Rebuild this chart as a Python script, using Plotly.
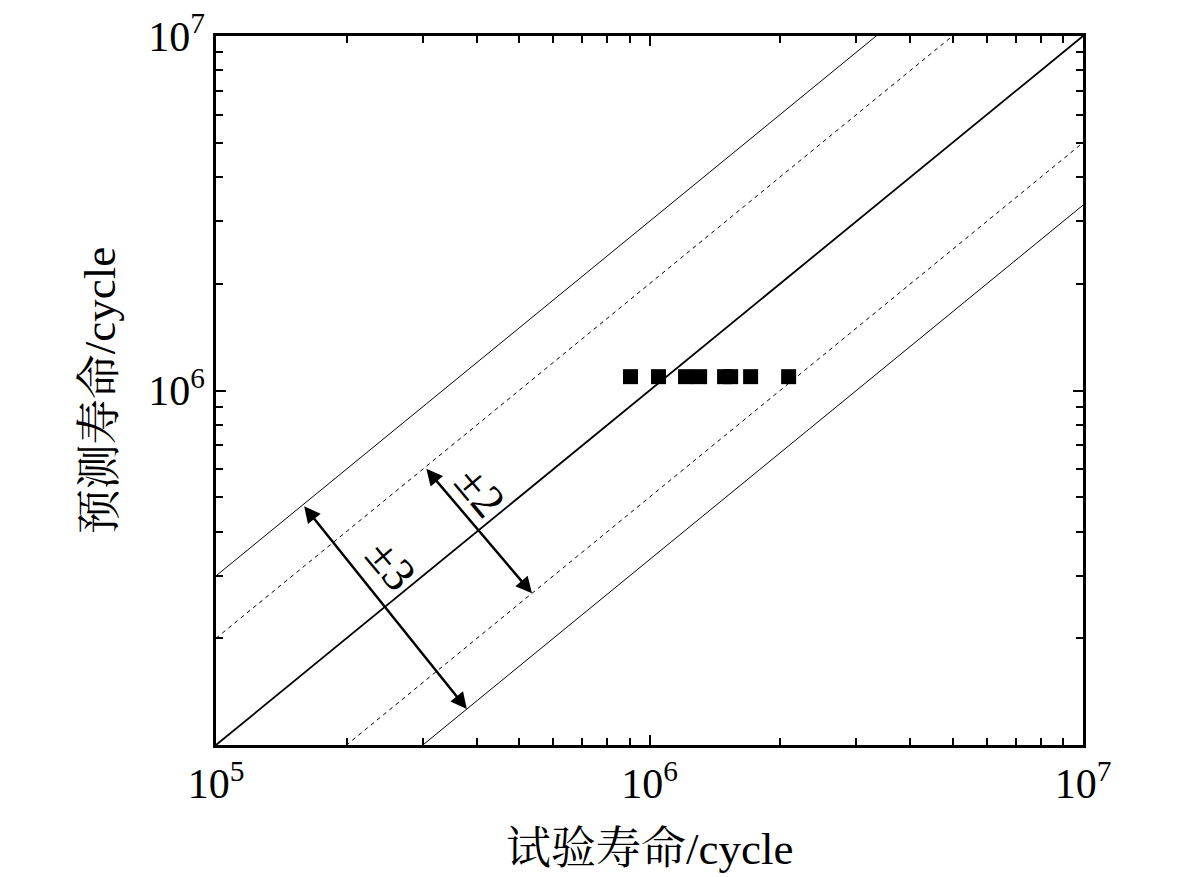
import numpy as np
import plotly.graph_objects as go

# ---- data ----
test_life = [9.04e5, 1.049e6, 1.211e6, 1.305e6, 1.490e6, 1.539e6, 1.711e6, 2.094e6]
pred_life = [1.094e6, 1.094e6, 1.094e6, 1.094e6, 1.094e6, 1.094e6, 1.094e6, 1.094e6]

line_x = [1e5, 1e7]
center_factor = 1.0
band2_factors = [2.0, 0.5]
band3_factors = [3.0, 1.0 / 3.0]

arrow3_x = [1.587e5, 3.79e5]   # on y=3x and y=x/3
arrow2_x = [3.035e5, 5.357e5]  # on y=2x and y=x/2
label3_pos = [2.506e5, 3.09e5]
label2_pos = [4.04e5, 4.99e5]

major_vals = [1e5, 1e6, 1e7]
major_text = ["10<sup>5</sup>", "10<sup>6</sup>", "10<sup>7</sup>"]
y_major_vals = [1e6, 1e7]
y_major_text = ["10<sup>6</sup>", "10<sup>7</sup>"]
minor_vals = [m * 10 ** e for e in (5, 6) for m in range(2, 10)]

x_title = "试验寿命/cycle"
y_title = "预测寿命/cycle"

FONT = "Liberation Serif, Times New Roman, Noto Serif CJK SC, Noto Sans CJK SC, serif"

fig = go.Figure()

# center line
fig.add_trace(go.Scatter(x=line_x, y=[center_factor * v for v in line_x], mode="lines",
                         line=dict(color="black", width=1.8), showlegend=False, hoverinfo="skip"))
for f in band2_factors:
    fig.add_trace(go.Scatter(x=line_x, y=[f * v for v in line_x], mode="lines",
                             line=dict(color="black", width=1, dash="4px,4px"),
                             showlegend=False, hoverinfo="skip"))
for f in band3_factors:
    fig.add_trace(go.Scatter(x=line_x, y=[f * v for v in line_x], mode="lines",
                             line=dict(color="black", width=1),
                             showlegend=False, hoverinfo="skip"))

fig.add_trace(go.Scatter(x=test_life, y=pred_life, mode="markers",
                         marker=dict(symbol="square", size=15, color="black", line=dict(width=0)),
                         showlegend=False))

annotations = []
for xs, facs in ((arrow3_x, band3_factors), (arrow2_x, band2_factors)):
    x0, x1 = xs
    y0, y1 = facs[0] * x0, facs[1] * x1
    annotations.append(dict(
        x=np.log10(x1), y=np.log10(y1), ax=np.log10(x0), ay=np.log10(y0),
        xref="x", yref="y", axref="x", ayref="y", text="", showarrow=True,
        arrowhead=2, startarrowhead=2, arrowside="end+start", arrowsize=1.3,
        startarrowsize=1.3, arrowwidth=2.5, arrowcolor="black", standoff=0, startstandoff=0))

for txt, pos in (("±3", label3_pos), ("±2", label2_pos)):
    annotations.append(dict(x=np.log10(pos[0]), y=np.log10(pos[1]), xref="x", yref="y",
                            text=txt, showarrow=False, textangle=50, yshift=6, xshift=2,
                            font=dict(family=FONT, size=47, color="black")))

annotations.append(dict(x=0.5, y=-0.146, xref="paper", yref="paper", text=x_title,
                        showarrow=False, xanchor="center", yanchor="middle",
                        font=dict(family=FONT, size=45, color="black")))
annotations.append(dict(x=-0.134, y=0.5, xref="paper", yref="paper", text=y_title,
                        showarrow=False, xanchor="center", yanchor="middle", textangle=-90,
                        font=dict(family=FONT, size=45, color="black")))

axis_common = dict(type="log", range=[5, 7], showgrid=False, zeroline=False,
                   ticks="inside", ticklen=10, tickwidth=2.2, tickcolor="black",
                   showline=True, linewidth=2.5, linecolor="black", mirror="allticks",
                   tickfont=dict(family=FONT, size=42, color="black"), automargin=False,
                   ticklabeloverflow="allow",
                   minor=dict(ticks="inside", ticklen=7, tickwidth=2.2, tickcolor="black",
                              tickvals=minor_vals, showgrid=False))

# page body has an 8px margin, so the figure is shrunk by 8px to fit the 1181x877 window
fig.update_layout(
    width=1173, height=869,
    margin=dict(l=208, r=98, t=28, b=132),
    paper_bgcolor="white", plot_bgcolor="white",
    xaxis=dict(**axis_common, tickmode="array", tickvals=major_vals, ticktext=major_text),
    yaxis=dict(**axis_common, tickmode="array", tickvals=y_major_vals, ticktext=y_major_text),
    annotations=annotations,
    showlegend=False,
)

fig.write_html("out.html")
